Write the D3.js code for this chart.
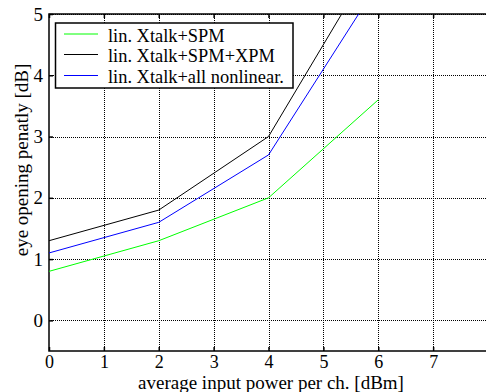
<!DOCTYPE html>
<html>
<head>
<meta charset="utf-8">
<script src="https://cdn.jsdelivr.net/npm/d3@7"></script>
<style>
  html, body { margin: 0; padding: 0; background: #fff; }
  svg { display: block; font-family: "Liberation Serif", "Times New Roman", serif; }
</style>
</head>
<body>
<svg id="chart" width="486" height="392"></svg>
<script>
// Input power per channel [dBm]
const powers = [0, 2, 4, 6];
// Eye opening penalty [dB] for each simulation case
const penaltySPM = [0.8, 1.3, 2.0, 3.6];
const penaltySPMXPM = [1.3, 1.8, 3.0, 6.0];
const penaltyAllNL = [1.1, 1.6, 2.7, 5.5];
const seriesNames = ["lin. Xtalk+SPM", "lin. Xtalk+SPM+XPM", "lin. Xtalk+all nonlinear."];
const seriesColors = ["#00ff00", "#000000", "#0000ff"];
const xTicks = [0, 1, 2, 3, 4, 5, 6, 7];
const yTicks = [0, 1, 2, 3, 4, 5];

const series = [penaltySPM, penaltySPMXPM, penaltyAllNL].map((vals, i) => ({
  name: seriesNames[i],
  color: seriesColors[i],
  points: powers.map((p, j) => [p, vals[j]])
}));

const FONT = "'Liberation Serif', 'Times New Roman', serif";
const svg = d3.select("#chart");
const plotL = 49, plotR = 488, plotT = 14, plotB = 351;

const x = d3.scaleLinear().domain([0, 8]).range([plotL, plotR]);
const y = d3.scaleLinear().domain([-0.5, 5]).range([plotB, plotT]);

svg.append("defs").append("clipPath").attr("id", "plotClip")
  .append("rect").attr("x", plotL).attr("y", plotT)
  .attr("width", plotR - plotL).attr("height", plotB - plotT);

// dotted grid
const grid = svg.append("g").attr("stroke", "#000").attr("stroke-width", 1)
  .attr("stroke-dasharray", "1,1").attr("shape-rendering", "crispEdges");
grid.selectAll(".gx").data(xTicks.slice(1)).join("line")
  .attr("x1", d => Math.round(x(d)) + 0.5).attr("x2", d => Math.round(x(d)) + 0.5)
  .attr("y1", plotT).attr("y2", plotB);
grid.selectAll(".gy").data(yTicks).join("line")
  .attr("y1", d => Math.round(y(d)) + 0.5).attr("y2", d => Math.round(y(d)) + 0.5)
  .attr("x1", plotL).attr("x2", plotR);

// axes with inward ticks
const xAxisB = d3.axisBottom(x).tickValues(xTicks).tickSize(-4).tickPadding(4.2).tickFormat(d3.format("d"));
const xAxisT = d3.axisTop(x).tickValues(xTicks).tickSize(-4).tickFormat("");
const yAxisL = d3.axisLeft(y).tickValues(yTicks).tickSize(-4).tickPadding(6).tickFormat(d3.format("d"));

function styleAxis(g, size) {
  g.select(".domain").remove();
  g.attr("font-family", FONT).attr("font-size", size);
  g.selectAll("line").attr("stroke", "#000").attr("stroke-width", 1.5);
  g.selectAll("text").attr("fill", "#000");
}
svg.append("g").attr("transform", `translate(0,${plotB})`).call(xAxisB).call(styleAxis, 18);
svg.append("g").attr("transform", `translate(0,${plotT})`).call(xAxisT).call(styleAxis, 18);
svg.append("g").attr("transform", `translate(${plotL},0)`).call(yAxisL).call(styleAxis, 19);

// plot frame
svg.append("rect").attr("x", plotL).attr("y", plotT)
  .attr("width", plotR - plotL).attr("height", plotB - plotT)
  .attr("fill", "none").attr("stroke", "#000").attr("stroke-width", 1.5);

// curves
const line = d3.line().x(d => x(d[0])).y(d => y(d[1]));
svg.append("g").attr("clip-path", "url(#plotClip)")
  .selectAll("path").data(series).join("path")
  .attr("d", d => line(d.points))
  .attr("fill", "none").attr("stroke", d => d.color).attr("stroke-width", 1);

// legend
const lg = svg.append("g").attr("font-family", FONT).attr("font-size", 18.4);
lg.append("rect").attr("x", 55.5).attr("y", 23).attr("width", 237.5).attr("height", 65)
  .attr("fill", "#fff").attr("stroke", "#000").attr("stroke-width", 1.5);
const rowBase = [41.5, 62, 83];
series.forEach((s, i) => {
  lg.append("line").attr("x1", 64).attr("x2", 98)
    .attr("y1", rowBase[i] - 7.5).attr("y2", rowBase[i] - 7.5)
    .attr("stroke", s.color).attr("stroke-width", 1);
  lg.append("text").attr("x", 108).attr("y", rowBase[i])
    .attr("fill", "#000").text(s.name);
});

// axis titles
svg.append("text").attr("x", 271).attr("y", 389).attr("text-anchor", "middle")
  .attr("font-family", FONT).attr("font-size", 19).attr("fill", "#000")
  .text("average input power per ch. [dBm]");
svg.append("text").attr("transform", "translate(28,160) rotate(-90)")
  .attr("text-anchor", "middle").attr("font-family", FONT).attr("font-size", 19).attr("fill", "#000")
  .text("eye opening penatly [dB]");
</script>
</body>
</html>
